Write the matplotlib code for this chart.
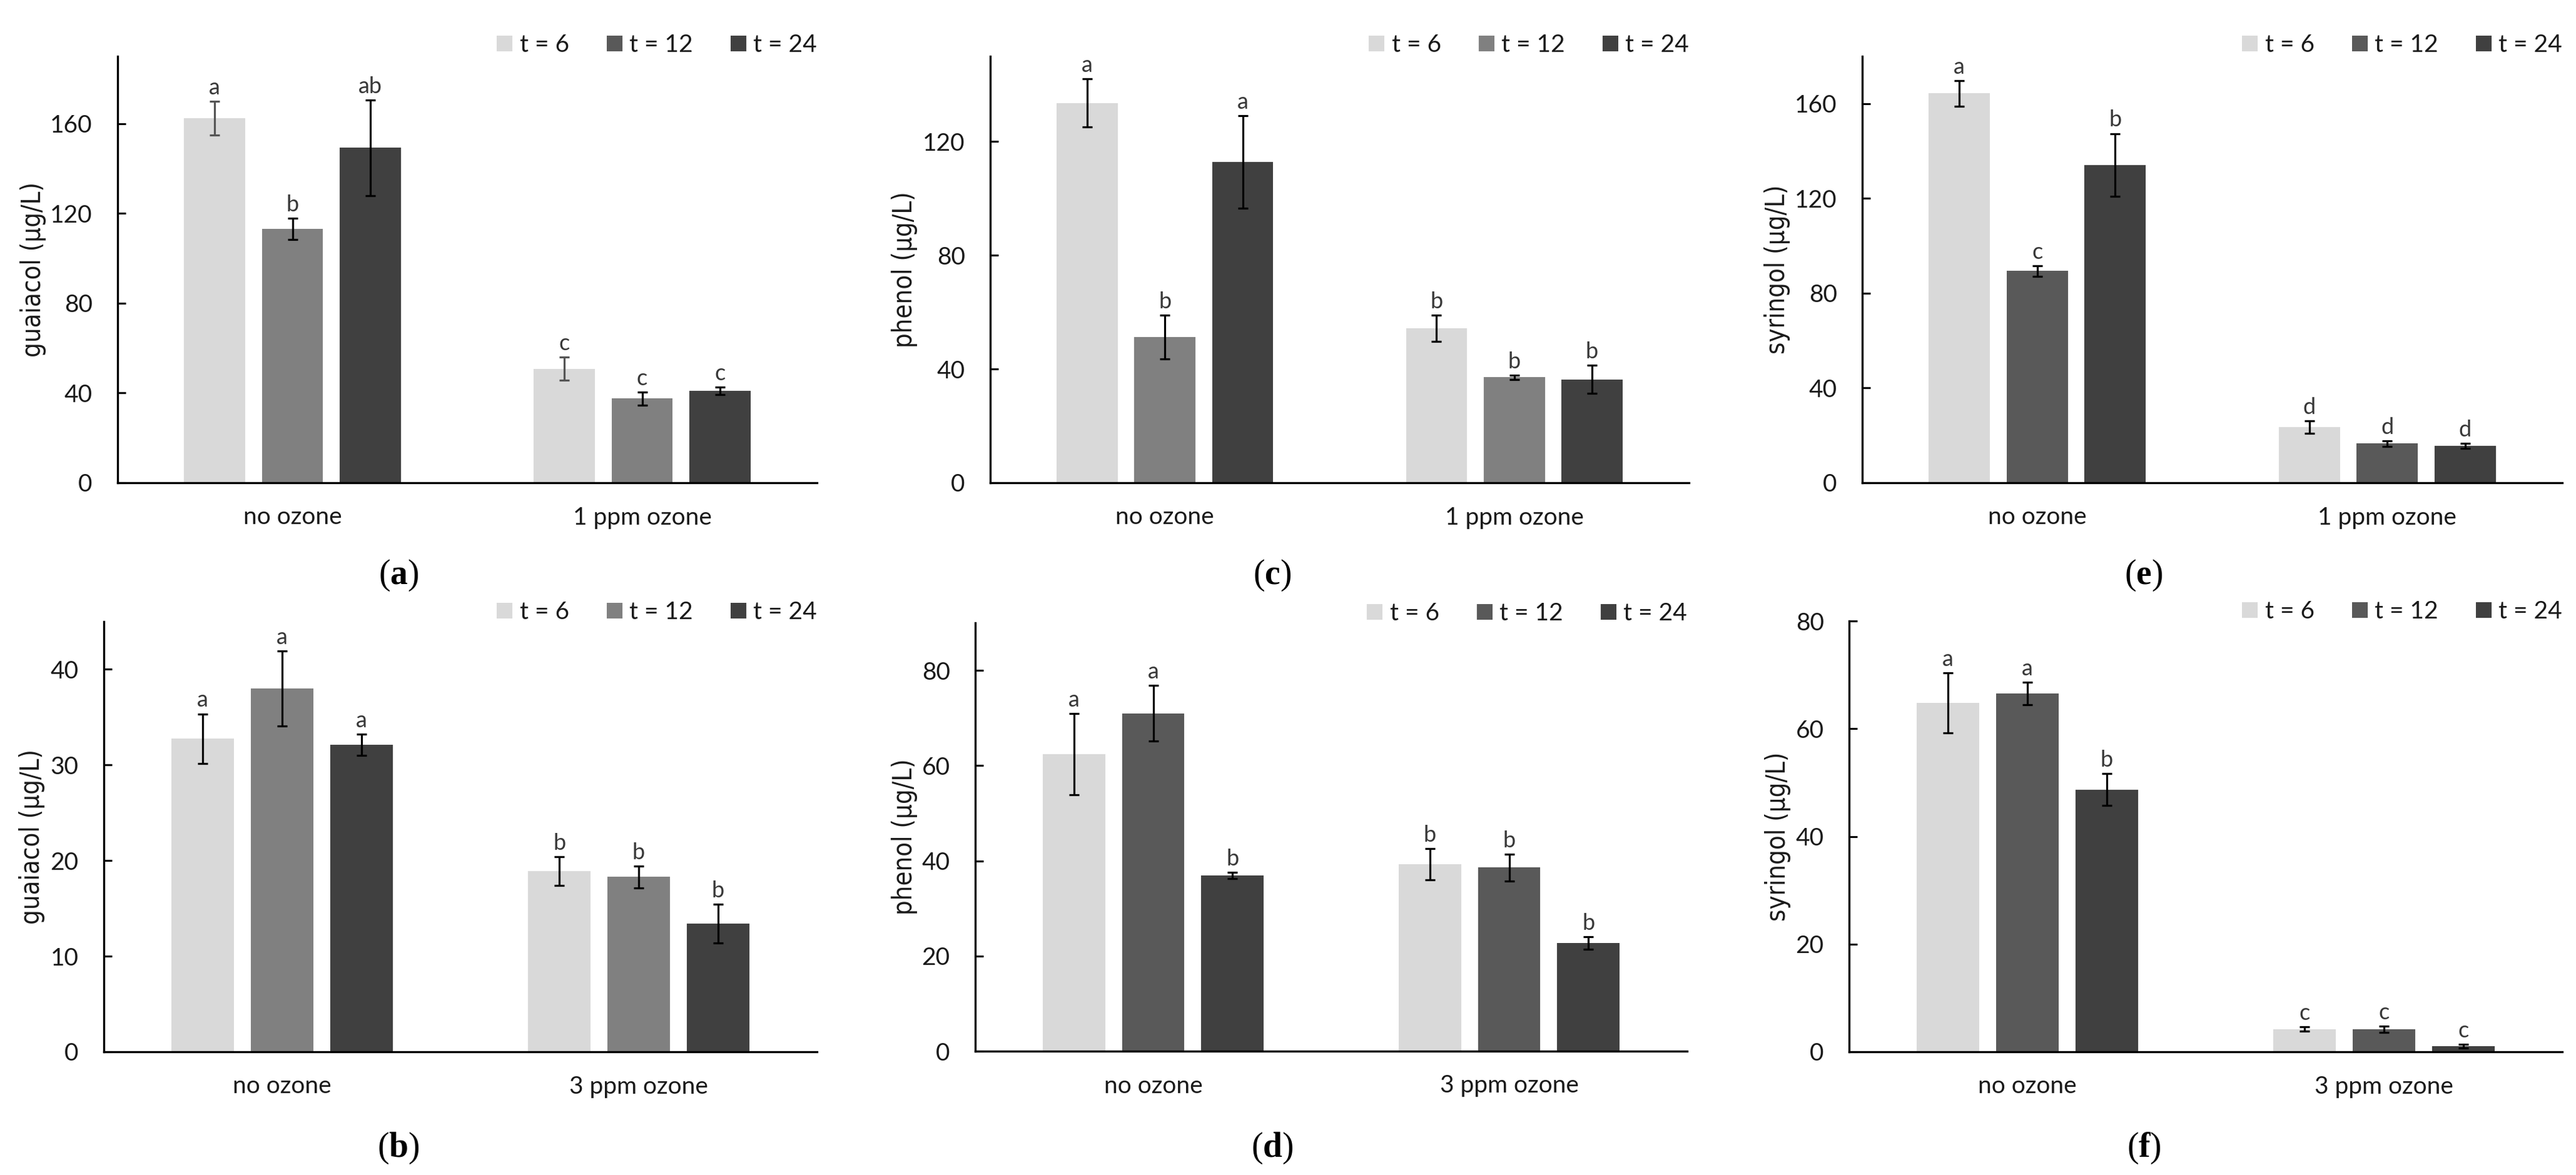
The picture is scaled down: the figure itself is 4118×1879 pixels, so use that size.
import matplotlib
matplotlib.use("Agg")
import matplotlib.pyplot as plt
from matplotlib.patches import Patch
from matplotlib import font_manager
import numpy as np

plt.rcParams['font.family'] = ['Lato', 'DejaVu Sans']
plt.rcParams['mathtext.fontset'] = 'custom'
plt.rcParams['mathtext.rm'] = 'Liberation Serif'
plt.rcParams['mathtext.bf'] = 'Liberation Serif:bold'

# ---------------- data ----------------
series_labels = ["t = 6", "t = 12", "t = 24"]
groups_1ppm = ["no ozone", "1 ppm ozone"]
groups_3ppm = ["no ozone", "3 ppm ozone"]

# (a) guaiacol, 1 ppm
guaiacol1_t6 = [162.5, 50.8];  guaiacol1_t6_err = [7.5, 5.2]
guaiacol1_t12 = [113.1, 37.5]; guaiacol1_t12_err = [4.8, 2.9]
guaiacol1_t24 = [149.2, 41.0]; guaiacol1_t24_err = [21.4, 1.7]
guaiacol1_letters = [["a", "c"], ["b", "c"], ["ab", "c"]]

# (c) phenol, 1 ppm
phenol1_t6 = [133.6, 54.3];  phenol1_t6_err = [8.5, 4.7]
phenol1_t12 = [51.3, 37.1];  phenol1_t12_err = [7.7, 0.7]
phenol1_t24 = [112.8, 36.4]; phenol1_t24_err = [16.2, 5.0]
phenol1_letters = [["a", "b"], ["b", "b"], ["a", "b"]]

# (e) syringol, 1 ppm
syringol1_t6 = [164.3, 23.4];  syringol1_t6_err = [5.5, 2.6]
syringol1_t12 = [89.4, 16.5];  syringol1_t12_err = [2.2, 1.2]
syringol1_t24 = [134.1, 15.5]; syringol1_t24_err = [13.3, 1.0]
syringol1_letters = [["a", "d"], ["c", "d"], ["b", "d"]]

# (b) guaiacol, 3 ppm
guaiacol3_t6 = [32.75, 18.9]; guaiacol3_t6_err = [2.6, 1.5]
guaiacol3_t12 = [38.0, 18.3]; guaiacol3_t12_err = [3.95, 1.15]
guaiacol3_t24 = [32.1, 13.4]; guaiacol3_t24_err = [1.1, 2.05]
guaiacol3_letters = [["a", "b"], ["a", "b"], ["a", "b"]]

# (d) phenol, 3 ppm
phenol3_t6 = [62.4, 39.3];  phenol3_t6_err = [8.5, 3.3]
phenol3_t12 = [71.0, 38.6]; phenol3_t12_err = [5.8, 2.8]
phenol3_t24 = [36.9, 22.7]; phenol3_t24_err = [0.65, 1.3]
phenol3_letters = [["a", "b"], ["a", "b"], ["b", "b"]]

# (f) syringol, 3 ppm
syringol3_t6 = [64.8, 4.2];  syringol3_t6_err = [5.6, 0.4]
syringol3_t12 = [66.5, 4.2]; syringol3_t12_err = [2.1, 0.6]
syringol3_t24 = [48.7, 1.0]; syringol3_t24_err = [3.0, 0.35]
syringol3_letters = [["a", "c"], ["a", "c"], ["b", "c"]]

# ---------------- styling ----------------
W, H = 4118, 1879
fig = plt.figure(figsize=(W / 100, H / 100), dpi=100)

C6 = "#d9d9d9"
C12_mid = "#808080"
C12_dark = "#595959"
C24 = "#404040"
TXT = "#1a1a1a"
LET = "#383838"

# y-label font: condensed/narrow sans if present
YL_KW = dict(family=["DejaVu Sans"], fontsize=27)
_names = {(f.name, f.stretch) for f in font_manager.fontManager.ttflist}
if any(n == "Liberation Sans Narrow" for n, s in _names):
    YL_KW = dict(family=["Liberation Sans Narrow", "DejaVu Sans"], fontsize=36)
elif any(n == "DejaVu Sans" and s == "condensed" for n, s in _names):
    YL_KW = dict(family=["DejaVu Sans"], fontstretch="condensed", fontsize=30)

def fx(px):
    return px / W

def fy(py):
    return 1 - py / H

panels = [
    dict(letter="a", box=(188, 1306, 90, 772),
         means=[guaiacol1_t6, guaiacol1_t12, guaiacol1_t24],
         errs=[guaiacol1_t6_err, guaiacol1_t12_err, guaiacol1_t24_err],
         letters=guaiacol1_letters, ylabel="guaiacol (µg/L)",
         ylim=190, ticks=np.arange(0, 161, 40), groups=groups_1ppm,
         colors=[C6, C12_mid, C24], lcolors=[C6, C12_dark, C24],
         ecolors=["#555555", "black", "black"], ylx=53, lab=(637, 920),
         legoff=18),
    dict(letter="c", box=(1583, 2700, 90, 772),
         means=[phenol1_t6, phenol1_t12, phenol1_t24],
         errs=[phenol1_t6_err, phenol1_t12_err, phenol1_t24_err],
         letters=phenol1_letters, ylabel="phenol (µg/L)",
         ylim=150, ticks=np.arange(0, 121, 40), groups=groups_1ppm,
         colors=[C6, C12_mid, C24], lcolors=[C6, C12_mid, C24],
         ecolors=["black", "black", "black"], ylx=1446, lab=(2034, 920),
         legoff=18),
    dict(letter="e", box=(2977, 4096, 90, 772),
         means=[syringol1_t6, syringol1_t12, syringol1_t24],
         errs=[syringol1_t6_err, syringol1_t12_err, syringol1_t24_err],
         letters=syringol1_letters, ylabel="syringol (µg/L)",
         ylim=180, ticks=np.arange(0, 161, 40), groups=groups_1ppm,
         colors=[C6, C12_dark, C24], lcolors=[C6, C12_dark, C24],
         ecolors=["black", "black", "black"], ylx=2841, lab=(3427, 920),
         legoff=18),
    dict(letter="b", box=(166, 1306, 994, 1682),
         means=[guaiacol3_t6, guaiacol3_t12, guaiacol3_t24],
         errs=[guaiacol3_t6_err, guaiacol3_t12_err, guaiacol3_t24_err],
         letters=guaiacol3_letters, ylabel="guaiacol (µg/L)",
         ylim=45, ticks=np.arange(0, 41, 10), groups=groups_3ppm,
         colors=[C6, C12_mid, C24], lcolors=[C6, C12_mid, C24],
         ecolors=["black", "black", "black"], ylx=51, lab=(637, 1836),
         legoff=15),
    dict(letter="d", box=(1559, 2697, 996, 1681),
         means=[phenol3_t6, phenol3_t12, phenol3_t24],
         errs=[phenol3_t6_err, phenol3_t12_err, phenol3_t24_err],
         letters=phenol3_letters, ylabel="phenol (µg/L)",
         ylim=90, ticks=np.arange(0, 81, 20), groups=groups_3ppm,
         colors=[C6, C12_dark, C24], lcolors=[C6, C12_dark, C24],
         ecolors=["black", "black", "black"], ylx=1446, lab=(2034, 1836),
         legoff=15),
    dict(letter="f", box=(2956, 4096, 993, 1682),
         means=[syringol3_t6, syringol3_t12, syringol3_t24],
         errs=[syringol3_t6_err, syringol3_t12_err, syringol3_t24_err],
         letters=syringol3_letters, ylabel="syringol (µg/L)",
         ylim=80, ticks=np.arange(0, 81, 20), groups=groups_3ppm,
         colors=[C6, C12_dark, C24], lcolors=[C6, C12_dark, C24],
         ecolors=["black", "black", "black"], ylx=2842, lab=(3427, 1836),
         legoff=15),
]

offsets = [-0.2225, 0.0, 0.2225]
bar_w = 0.175
FS = 28

for p in panels:
    l, r, t, b = p["box"]
    ax = fig.add_axes([fx(l), fy(b), fx(r) - fx(l), fy(t) - fy(b)])
    x = np.arange(len(p["groups"]))
    for i in range(3):
        xs = x + offsets[i]
        ax.bar(xs, p["means"][i], width=bar_w, color=p["colors"][i],
               edgecolor="none", zorder=2)
        ax.errorbar(xs, p["means"][i], yerr=p["errs"][i], fmt="none",
                    ecolor=p["ecolors"][i], elinewidth=2.3, capsize=6,
                    capthick=2.3, zorder=3)
        for j in range(len(x)):
            top = p["means"][i][j] + p["errs"][i][j]
            ax.annotate(p["letters"][i][j], (xs[j], top), xytext=(0, 8),
                        textcoords="offset points", ha="center",
                        va="baseline", fontsize=FS - 2, color=LET)
    ax.set_xlim(-0.5, len(x) - 0.5)
    ax.set_ylim(0, p["ylim"])
    ax.set_yticks(p["ticks"])
    ax.set_xticks(x)
    ax.set_xticklabels(p["groups"])
    for s in ["top", "right"]:
        ax.spines[s].set_visible(False)
    for s in ["left", "bottom"]:
        ax.spines[s].set_linewidth(2.4)
        ax.spines[s].set_color("black")
    ax.tick_params(axis="y", direction="in", length=9.5, width=2.2,
                   pad=29, labelsize=FS, labelcolor=TXT)
    ax.tick_params(axis="x", length=0, pad=27, labelsize=FS,
                   labelcolor=TXT)
    ax.set_ylabel(p["ylabel"], color="#1a1a1a", va="center", **YL_KW)
    ax.yaxis.set_label_coords((p["ylx"] - l) / (r - l), 0.5)

    handles = [Patch(facecolor=c, edgecolor="none") for c in p["lcolors"]]
    ax.legend(handles, series_labels, loc="center right",
              bbox_to_anchor=(1.0, 1.0 + p["legoff"] / (b - t)), ncol=3,
              frameon=False, fontsize=FS, handlelength=0.63,
              handleheight=0.63, handletextpad=0.3, columnspacing=1.55,
              borderaxespad=0, borderpad=0, labelcolor=TXT)

    lx, ly = p["lab"]
    fig.text(fx(lx), fy(ly), r"$(\mathbf{" + p["letter"] + r"})$",
             ha="center", va="center", fontsize=40, color="black")

fig.savefig("out.png", dpi=100, facecolor="white")
